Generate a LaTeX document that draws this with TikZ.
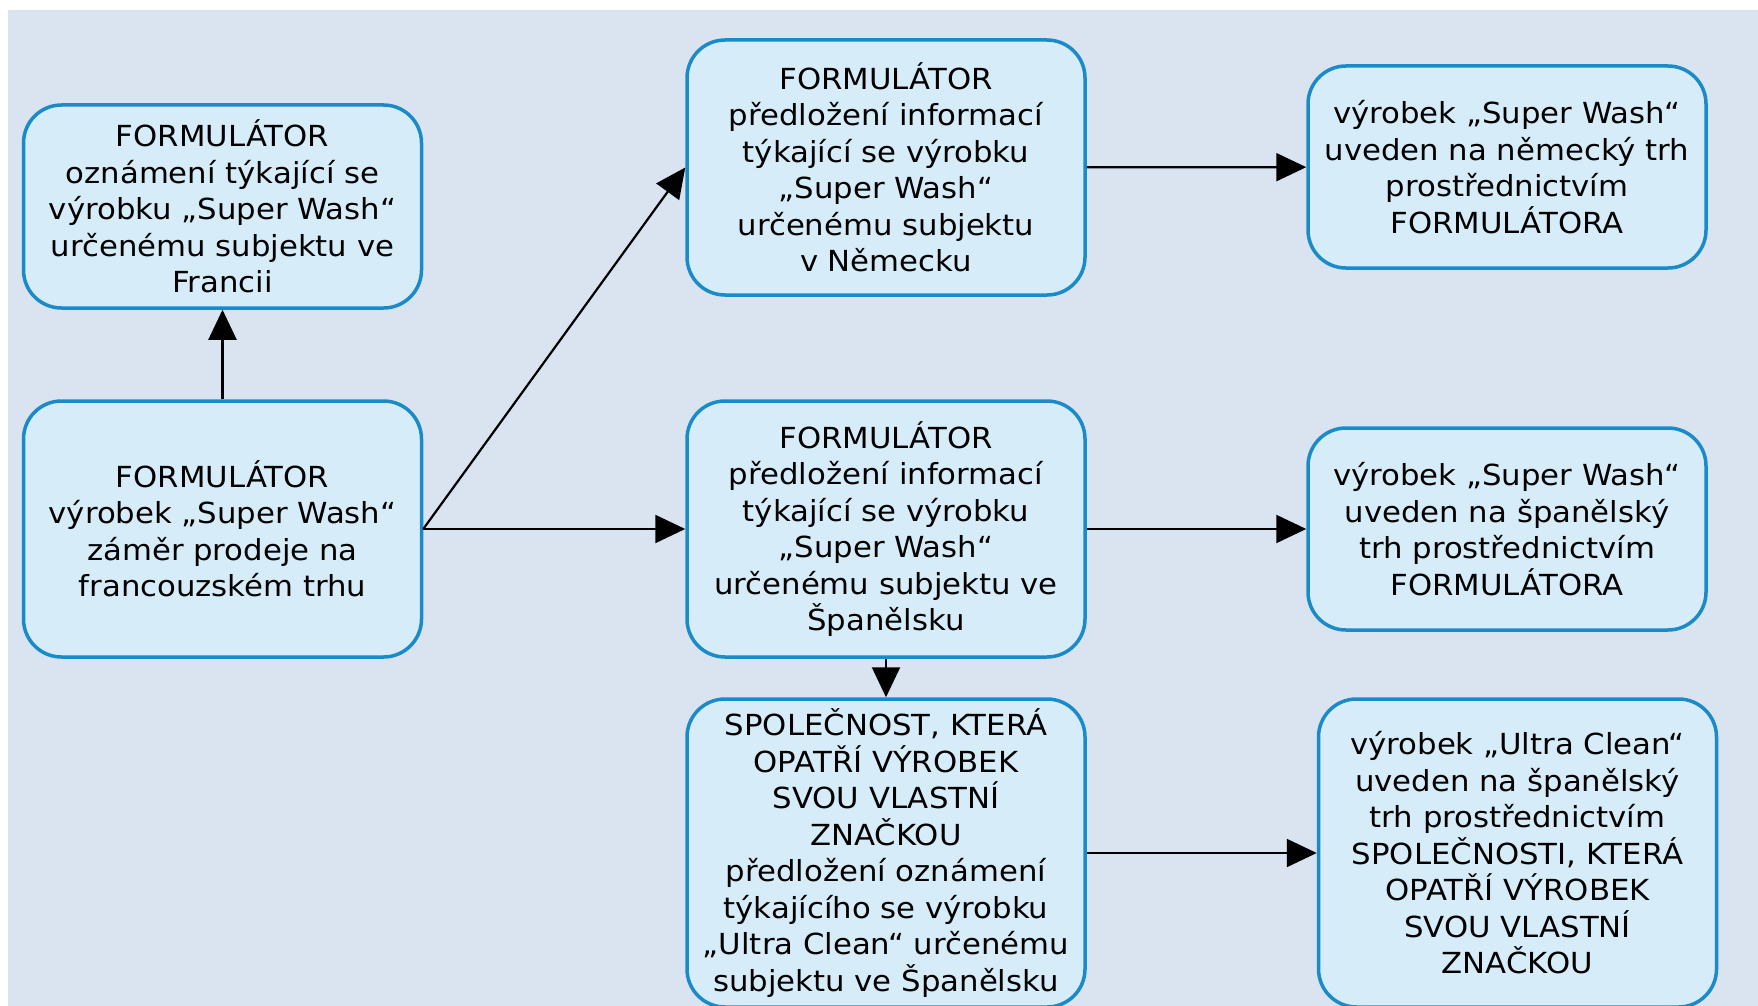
\documentclass[tikz,border=0pt]{standalone}
\usepackage{fontspec}
\setmainfont{DejaVu Sans}[FakeStretch=1.06]
\usetikzlibrary{arrows.meta}
\definecolor{bgcol}{HTML}{DAE4F0}
\definecolor{boxfill}{HTML}{D6EDF9}
\definecolor{boxline}{HTML}{1A8BC8}
\begin{document}
\begin{tikzpicture}[x=1pt, y=-1pt,
    box/.style={draw=boxline, fill=boxfill, line width=3.5pt, rounded corners=38pt,
      minimum width=398pt, align=center, inner sep=0pt,
      font=\fontsize{29}{36.5}\selectfont},
    arr/.style={line width=2.2pt, -{Triangle[length=30pt,width=28pt]}}]
  \useasboundingbox (0,0) rectangle (1758,1006);
  \fill [bgcol] (8,10) rectangle (1758,1006);
  % left column
  \node [box, minimum height=203pt] (notifFR) at (222.5,206.5)
    {FORMULÁTOR\\oznámení týkající se\\výrobku „Super Wash“\\určenému subjektu ve\\Francii};
  \node [box, minimum height=256pt] (formFR) at (222.5,529)
    {FORMULÁTOR\\výrobek „Super Wash“\\záměr prodeje na\\francouzském trhu};
  % middle column
  \node [box, minimum height=255pt] (infoDE) at (886,167.5)
    {FORMULÁTOR\\předložení informací\\týkající se výrobku\\„Super Wash“\\určenému subjektu\\v Německu};
  \node [box, minimum height=256pt] (infoES) at (886,529)
    {FORMULÁTOR\\předložení informací\\týkající se výrobku\\„Super Wash“\\určenému subjektu ve\\Španělsku};
  \node [box, minimum height=308pt] (ownES) at (886,853)
    {SPOLEČNOST, KTERÁ\\OPATŘÍ VÝROBEK\\SVOU VLASTNÍ\\ZNAČKOU\\předložení oznámení\\týkajícího se výrobku\\„Ultra Clean“ určenému\\subjektu ve Španělsku};
  % right column
  \node [box, minimum height=202pt] (marketDE) at (1507,167)
    {výrobek „Super Wash“\\uveden na německý trh\\prostřednictvím\\FORMULÁTORA};
  \node [box, minimum height=202pt] (marketES) at (1507,529)
    {výrobek „Super Wash“\\uveden na španělský\\trh prostřednictvím\\FORMULÁTORA};
  \node [box, minimum height=308pt] (ownMarketES) at (1517.5,853)
    {výrobek „Ultra Clean“\\uveden na španělský\\trh prostřednictvím\\SPOLEČNOSTI, KTERÁ\\OPATŘÍ VÝROBEK\\SVOU VLASTNÍ\\ZNAČKOU};
  % arrows
  \draw [arr] (formFR) -- (notifFR);
  \draw [arr] (formFR.east) -- (infoDE.west);
  \draw [arr] (formFR.east) -- (infoES.west);
  \draw [arr] (infoDE) -- (marketDE);
  \draw [arr] (infoES) -- (marketES);
  \draw [arr] (infoES) -- (ownES);
  \draw [arr] (ownES) -- (ownMarketES);
\end{tikzpicture}
\end{document}
